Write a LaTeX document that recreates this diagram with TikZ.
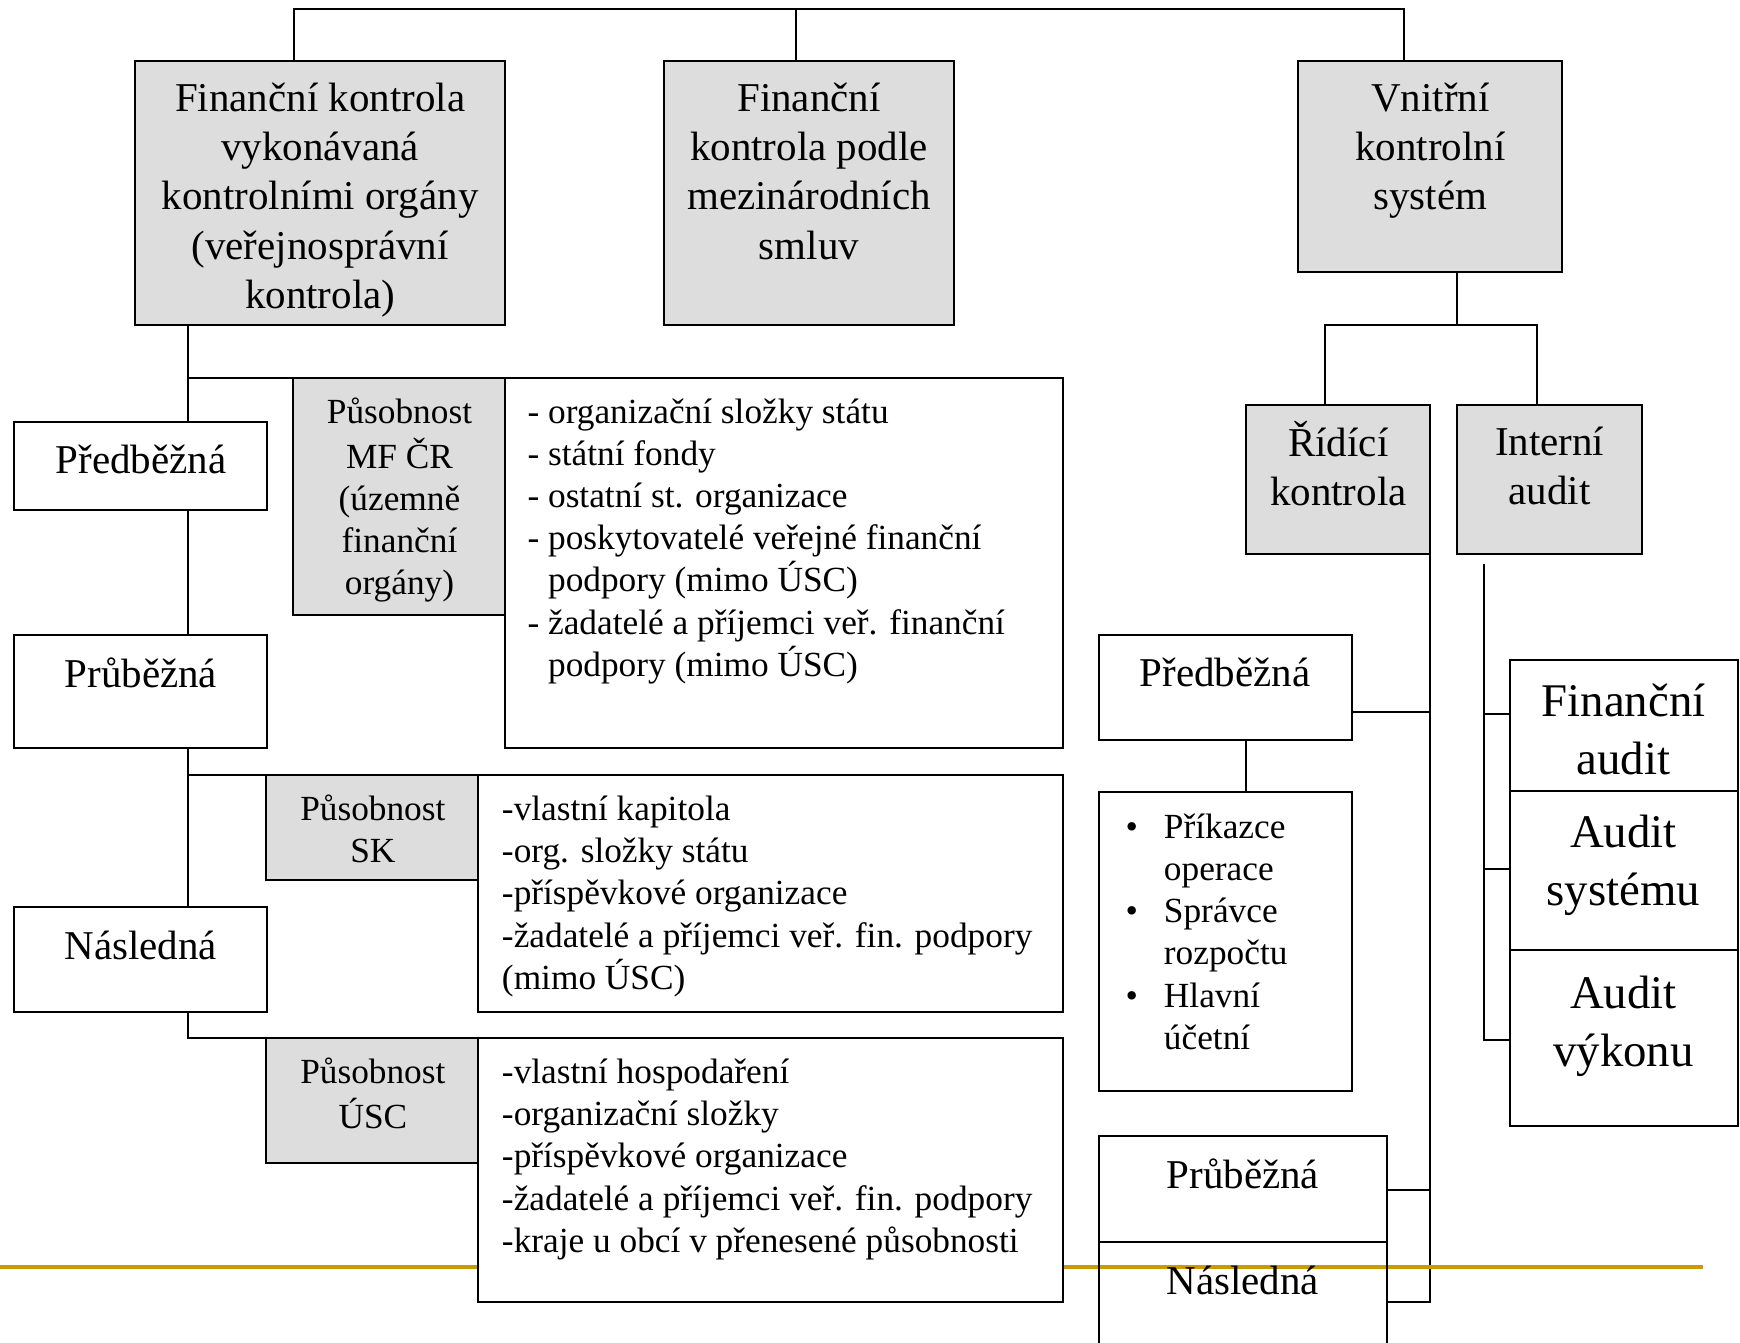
\documentclass[tikz,border=0pt]{standalone}
\usepackage{fontspec}
\setmainfont{Liberation Serif}
\usetikzlibrary{fit,backgrounds}
\definecolor{boxgray}{RGB}{221,221,221}
\definecolor{slidegold}{RGB}{204,153,0}
\newcommand{\listbullet}{\makebox[19pt][l]{•}}
\newcommand{\listindent}{\hspace*{19pt}}
\tikzset{
  gbox/.style={draw, fill=boxgray, line width=1pt, inner sep=0pt, outer sep=0pt},
  wbox/.style={draw, fill=white, line width=1pt, inner sep=0pt, outer sep=0pt},
  obox/.style={draw, line width=1pt, inner sep=0pt, outer sep=0pt},
  bigtxt/.style={font=\fontsize{20.3}{24.4}\selectfont, align=center, inner sep=0pt, anchor=north},
  smalltxt/.style={font=\fontsize{17.5}{20.9}\selectfont, inner sep=0pt, anchor=north},
  largetxt/.style={font=\fontsize{23.2}{28.6}\selectfont, align=center, inner sep=0pt, anchor=north},
  conn/.style={line width=1pt}
}
\begin{document}
\begin{tikzpicture}[x=0.55pt,y=-0.55pt]
\useasboundingbox (0,0) rectangle (1568,1210);

% Main boxes:
\node[gbox, fit={(122,55)(455,293)}] (fk) {};
\node[gbox, fit={(598,55)(860,293)}] (fm) {};
\node[gbox, fit={(1170,55)(1408,245)}] (vk) {};
\node[bigtxt] (fk-t) at (288.5,69) {\strut Finanční kontrola\\vykonávaná\\kontrolními orgány\\(veřejnosprávní\\kontrola)};
\node[bigtxt] (fm-t) at (729,69) {\strut Finanční\\kontrola podle\\mezinárodních\\smluv};
\node[bigtxt] (vk-t) at (1289,69) {\strut Vnitřní\\kontrolní\\systém};

% Left column: kinds of control
\node[wbox, fit={(13,380)(241,460)}] (lpred) {};
\node[wbox, fit={(13,572)(241,674)}] (lprub) {};
\node[wbox, fit={(13,817)(241,912)}] (lnasl) {};
\node[bigtxt] (lpred-t) at (127,395) {\strut Předběžná};
\node[bigtxt] (lprub-t) at (127,588) {\strut Průběžná};
\node[bigtxt] (lnasl-t) at (127,833) {\strut Následná};

% Scope boxes:
% gray label box on the left, list box on the right
\node[wbox, fit={(455,341)(958,674)}] (mflist) {};
\node[gbox, fit={(264,341)(455,554)}] (mf) {};
\node[wbox, fit={(431,698)(958,912)}] (sklist) {};
\node[gbox, fit={(240,698)(431,793)}] (sk) {};
\node[wbox, fit={(431,935)(958,1173)}] (usclist) {};
\node[gbox, fit={(240,935)(431,1048)}] (usc) {};

\node[smalltxt, align=center] (mf-t) at (360,354.5) {\strut Působnost\\MF ČR\\(územně\\finanční\\orgány)};
\node[smalltxt, anchor=north west, align=left] (mflist-t) at (475,354.5) {\strut- organizační složky státu\\- státní fondy\\- ostatní st. organizace\\- poskytovatelé veřejné finanční\\\phantom{- }podpory (mimo ÚSC)\\- žadatelé a příjemci veř. finanční\\\phantom{- }podpory (mimo ÚSC)};
\node[smalltxt, align=center] (sk-t) at (336,712.5) {\strut Působnost\\SK};
\node[smalltxt, anchor=north west, align=left] (sklist-t) at (452,712.5) {\strut-vlastní kapitola\\-org. složky státu\\-příspěvkové organizace\\-žadatelé a příjemci veř. fin. podpory\\(mimo ÚSC)};
\node[smalltxt, align=center] (usc-t) at (336,949.5) {\strut Působnost\\ÚSC};
\node[smalltxt, anchor=north west, align=left] (usclist-t) at (452,949.5) {\strut-vlastní hospodaření\\-organizační složky\\-příspěvkové organizace\\-žadatelé a příjemci veř. fin. podpory\\-kraje u obcí v přenesené působnosti};

% Right part: internal control system
\node[gbox, fit={(1123,365)(1289,499)}] (rk) {};
\node[gbox, fit={(1313,365)(1480,499)}] (ia) {};
\node[bigtxt] (rk-t) at (1206,379) {\strut Řídící\\kontrola};
\node[bigtxt] (ia-t) at (1396.5,379) {\strut Interní\\audit};

\node[wbox, fit={(990,572)(1218,667)}] (rpred) {};
\node[wbox, fit={(990,714)(1218,983)}] (rlist) {};
\node[wbox, fit={(990,1024)(1250,1119)}] (rprub) {};
\node[obox, fit={(990,1119)(1250,1218)}] (rnasl) {};
\node[bigtxt] (rpred-t) at (1104,587) {\strut Předběžná};
\node[smalltxt, anchor=north west, align=left] (rlist-t) at (1014,728.5) {\strut\listbullet Příkazce\\\listindent operace\\\listbullet Správce\\\listindent rozpočtu\\\listbullet Hlavní\\\listindent účetní};
\node[bigtxt] (rprub-t) at (1120,1040) {\strut Průběžná};
\node[bigtxt] (rnasl-t) at (1120,1135) {\strut Následná};

\node[wbox, fit={(1361,595)(1566,713)}] (fa) {};
\node[wbox, fit={(1361,713)(1566,856)}] (as) {};
\node[wbox, fit={(1361,856)(1566,1015)}] (av) {};
\node[largetxt] (fa-t) at (1463,609) {\strut Finanční\\audit};
\node[largetxt] (as-t) at (1463,727) {\strut Audit\\systému};
\node[largetxt] (av-t) at (1463,872) {\strut Audit\\výkonu};

% Connectors: behind the boxes
\begin{scope}[on background layer]
  \coordinate (top1) at (265,8);
  \coordinate (top2) at (717,8);
  \coordinate (top3) at (1265,8);
  \draw[conn] (fk.north -| top1) -- (top1) -- (top3) -- (vk.north -| top3);
  \draw[conn] (top2) -- (fm.north -| top2);

  % left spine
  \coordinate (sp) at (169,0);
  \draw[conn] (fk.south -| sp) -- (usc.north west -| sp) -- (usc.north west);
  \draw[conn] (mf.north west -| sp) -- (mf.north west);
  \draw[conn] (sk.north west -| sp) -- (sk.north west);

  % internal control system
  \coordinate (vs) at (1313,293);
  \coordinate (vl) at (1194,293);
  \coordinate (vr) at (1385,293);
  \draw[conn] (vk.south -| vs) -- (vs);
  \draw[conn] (rk.north -| vl) -- (vl) -- (vr) -- (ia.north -| vr);

  \coordinate (rs1) at (1289,642);
  \coordinate (rs2) at (1289,1072);
  \coordinate (rs3) at (1289,1173);
  \draw[conn] (rk.south -| rs3) -- (rs3) -- (rs3 -| rnasl.east);
  \draw[conn] (rs1 -| rpred.east) -- (rs1);
  \draw[conn] (rs2 -| rprub.east) -- (rs2);
  \coordinate (pl) at (1123,0);
  \draw[conn] (rpred.south -| pl) -- (rlist.north -| pl);

  \coordinate (ia0) at (1337,508);
  \coordinate (ia1) at (1337,643);
  \coordinate (ia2) at (1337,783);
  \coordinate (ia3) at (1337,937);
  \draw[conn] (ia0) -- (ia3) -- (ia3 -| av.west);
  \draw[conn] (ia1) -- (ia1 -| fa.west);
  \draw[conn] (ia2) -- (ia2 -| as.west);

  % slide line
  \draw[slidegold, line width=2.1pt] (0,1142) -- (1535,1142);
\end{scope}
\end{tikzpicture}
\end{document}
